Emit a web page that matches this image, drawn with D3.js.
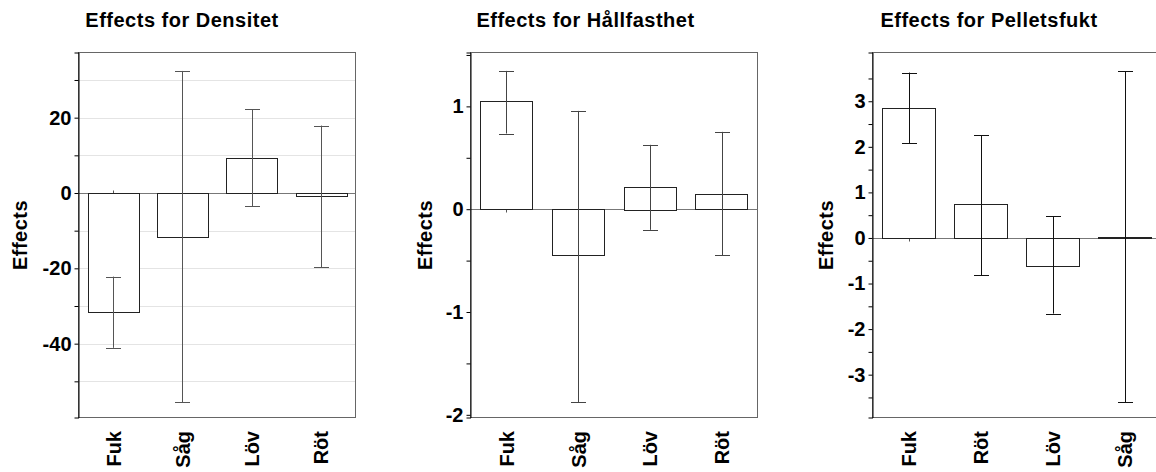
<!DOCTYPE html>
<html>
<head>
<meta charset="utf-8">
<title>Effects</title>
<script type="text/javascript" src="https://cdn.jsdelivr.net/npm/d3@7"></script>
<style>
body { margin:0; background:#fff; }
svg text { font-family: "Liberation Sans", Arial, sans-serif; font-weight:bold; fill:#000; }
</style>
</head>
<body>
<svg id="chart" width="1156" height="472"></svg>

<script>
// titles
var titles = ["Effects for Densitet", "Effects for Hållfasthet", "Effects for Pelletsfukt"];

// Densitet
var cats1 = ["Fuk", "Såg", "Löv", "Röt"];
var vals1 = [-31.6, -11.6, 9.4, -0.9];
var lo1 = [-41.1, -55.5, -3.45, -19.65];
var hi1 = [-22.2, 32.4, 22.2, 17.9];
var ticks1 = [-40, -20, 0, 20];
var minor1 = [-50, -30, -10, 10, 30];

// Hållfasthet
var cats2 = ["Fuk", "Såg", "Löv", "Röt"];
var vals2 = [1.05, -0.45, 0.22, 0.143];
var lo2 = [0.736, -1.875, -0.201, -0.45];
var hi2 = [1.345, 0.956, 0.626, 0.752];
var ticks2 = [-2, -1, 0, 1];
var minor2 = [-1.5, -0.5, 0.5, 1.5];

// Pelletsfukt
var cats3 = ["Fuk", "Röt", "Löv", "Såg"];
var vals3 = [2.86, 0.74, -0.61, 0.03];
var lo3 = [2.08, -0.82, -1.66, -3.6];
var hi3 = [3.63, 2.25, 0.48, 3.66];
var ticks3 = [-3, -2, -1, 0, 1, 2, 3];
var minor3 = [-3.5, -2.5, -1.5, -0.5, 0.5, 1.5, 2.5, 3.5];

var svg = d3.select("#chart");

function drawPanel(p){
	var x = d3.scaleBand().domain(p.cats).range([p.x0, p.x1])
		.paddingInner(0.27).paddingOuter(0.135);
	var y = d3.scaleLinear().domain(p.dom).range([417.5, 52.5]);
	var g = svg.append("g");

	// title
	g.append("text").attr("x", p.tx).attr("y", 26.5)
		.attr("text-anchor", "middle")
		.style("font-size", "20px").style("letter-spacing", "0.5px")
		.text(p.title);

	// grid
	if(p.grid){
		g.selectAll(".grid").data(p.ticks.concat(p.minor)).enter().append("line")
			.attr("x1", p.x0).attr("x2", p.x1)
			.attr("y1", function(d){ return Math.round(y(d)) + 0.5; })
			.attr("y2", function(d){ return Math.round(y(d)) + 0.5; })
			.attr("stroke", "#e4e4e4").attr("stroke-width", 1);
	}

	// frame
	g.append("rect").attr("x", p.x0).attr("y", 52.5)
		.attr("width", p.x1 - p.x0).attr("height", 365)
		.attr("fill", "none").attr("stroke", "#666").attr("stroke-width", 1);

	// zero line
	var z = Math.round(y(0)) + 0.5;
	g.append("line").attr("x1", p.x0).attr("x2", p.x1).attr("y1", z).attr("y2", z)
		.attr("stroke", "#777").attr("stroke-width", 1);

	// category ticks on zero line
	g.selectAll(".ctick").data(p.cats).enter().append("line")
		.attr("x1", function(d){ return Math.round(x(d) + x.bandwidth()/2) + 0.5; })
		.attr("x2", function(d){ return Math.round(x(d) + x.bandwidth()/2) + 0.5; })
		.attr("y1", z - 3).attr("y2", z + 3)
		.attr("stroke", "#555");

	// bars
	g.selectAll(".bar").data(p.vals).enter().append("rect")
		.attr("x", function(d, i){ return Math.round(x(p.cats[i])) + 0.5; })
		.attr("width", Math.round(x.bandwidth()))
		.attr("y", function(d){ return Math.round(y(Math.max(0, d))) + 0.5; })
		.attr("height", function(d){ return Math.max(1, Math.round(Math.abs(y(d) - y(0)))); })
		.attr("fill", "#fff").attr("stroke", "#222").attr("stroke-width", 1);

	// error bars
	var eb = g.selectAll(".err").data(p.vals).enter().append("g")
		.attr("stroke", p.errColor).attr("stroke-width", 1);
	var cx = function(i){ return Math.round(x(p.cats[i]) + x.bandwidth()/2) + 0.5; };
	eb.append("line")
		.attr("x1", function(d, i){ return cx(i); }).attr("x2", function(d, i){ return cx(i); })
		.attr("y1", function(d, i){ return y(p.lo[i]); })
		.attr("y2", function(d, i){ return y(p.hi[i]); });
	eb.append("line")
		.attr("x1", function(d, i){ return cx(i) - 7.5; }).attr("x2", function(d, i){ return cx(i) + 7.5; })
		.attr("y1", function(d, i){ return Math.round(y(p.lo[i])) + 0.5; })
		.attr("y2", function(d, i){ return Math.round(y(p.lo[i])) + 0.5; });
	eb.append("line")
		.attr("x1", function(d, i){ return cx(i) - 7.5; }).attr("x2", function(d, i){ return cx(i) + 7.5; })
		.attr("y1", function(d, i){ return Math.round(y(p.hi[i])) + 0.5; })
		.attr("y2", function(d, i){ return Math.round(y(p.hi[i])) + 0.5; });

	// y axis
	var ax = g.append("g").attr("transform", "translate(" + p.x0 + ",0)")
		.call(d3.axisLeft(y).tickValues(p.ticks).tickSize(4).tickPadding(3)
			.tickFormat(function(d){ return String(d); }));
	ax.select(".domain").attr("stroke", "#000");
	ax.selectAll("text").style("font-size", "20px").style("font-weight", "bold")
		.attr("font-family", null);
	g.append("g").attr("transform", "translate(" + p.x0 + ",0)")
		.call(d3.axisLeft(y).tickValues(p.minor).tickSize(4).tickFormat(""))
		.select(".domain").remove();

	// y label
	g.append("text")
		.attr("transform", "translate(" + p.lx + ",235) rotate(-90)")
		.attr("text-anchor", "middle")
		.style("font-size", "20px").style("letter-spacing", "0.5px")
		.text("Effects");

	// x labels
	g.selectAll(".xl").data(p.cats).enter().append("text")
		.attr("transform", function(d){
			return "translate(" + (x(d) + x.bandwidth()/2) + ",431) rotate(-90)";
		})
		.attr("text-anchor", "end").attr("dy", "0.37em")
		.style("font-size", "20px")
		.text(function(d){ return d; });
}

drawPanel({title: titles[0], cats: cats1, vals: vals1, lo: lo1, hi: hi1, ticks: ticks1, minor: minor1,
	dom: [-59.6, 37.3], x0: 78.5, x1: 355.5, tx: 182, lx: 27, grid: true, errColor: "#555"});
drawPanel({title: titles[1], cats: cats2, vals: vals2, lo: lo2, hi: hi2, ticks: ticks2, minor: minor2,
	dom: [-2.026, 1.524], x0: 470.5, x1: 757.5, tx: 585.5, lx: 432, grid: false, errColor: "#444"});
drawPanel({title: titles[2], cats: cats3, vals: vals3, lo: lo3, hi: hi3, ticks: ticks3, minor: minor3,
	dom: [-3.94, 4.07], x0: 872.5, x1: 1160.5, tx: 989, lx: 833, grid: false, errColor: "#111"});
</script>
</body>
</html>
